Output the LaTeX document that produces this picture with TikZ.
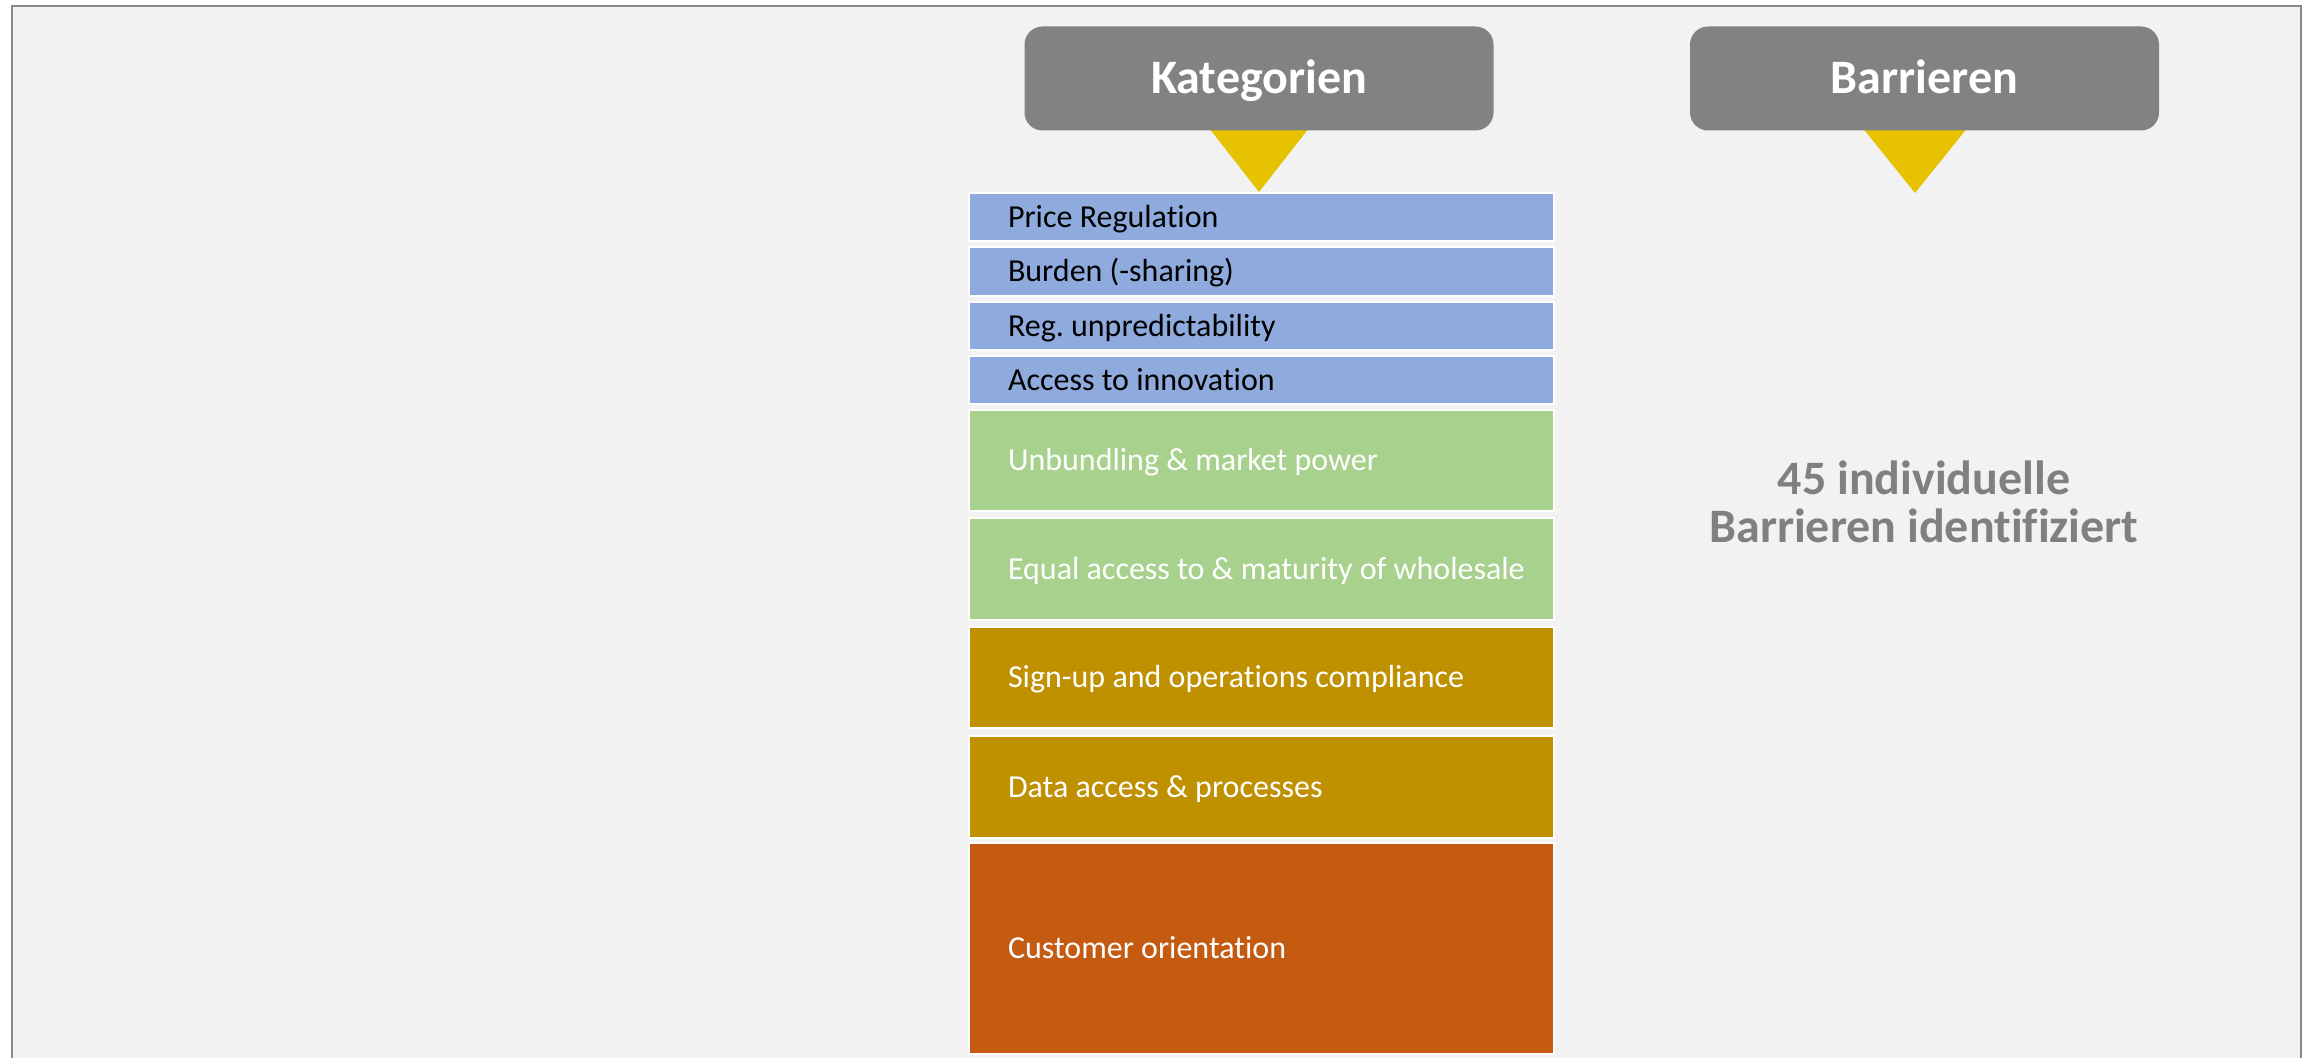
\documentclass[tikz,border=0pt]{standalone}
\usepackage{fontspec}
\setmainfont{Carlito}[Ligatures={CommonOff}]
\definecolor{bgcol}{HTML}{F2F2F2}
\definecolor{framecol}{HTML}{8A8A8A}
\definecolor{cblue}{HTML}{8FAADC}
\definecolor{cgreen}{HTML}{A9D18E}
\definecolor{cgold}{HTML}{BF9000}
\definecolor{corange}{HTML}{C55A11}
\definecolor{hgray}{HTML}{828282}
\definecolor{tyellow}{HTML}{E6C200}
\definecolor{tgray}{HTML}{808080}
\tikzset{
  catbox/.style={rectangle, draw=white, line width=1pt, text width=253.5pt,
    inner xsep=19.5pt, inner ysep=0pt, align=flush left, text height=10.3pt,
    text depth=0pt, font=\fontsize{16}{19}\selectfont\frenchspacing},
  catblue/.style={catbox, fill=cblue, text=black},
  catgreen/.style={catbox, fill=cgreen, text=white},
  catgold/.style={catbox, fill=cgold, text=white},
  catorange/.style={catbox, fill=corange, text=white},
  headbox/.style={rectangle, rounded corners=9pt, fill=hgray, text=white,
    font=\fontsize{24}{24}\selectfont\bfseries, minimum width=234.5pt,
    minimum height=52pt, inner sep=0pt, text height=15.5pt, text depth=0pt},
  pointer/.style={fill=tyellow},
  notetext/.style={font=\fontsize{24}{24}\selectfont\bfseries, text=tgray,
    inner sep=0pt, anchor=base},
  framelines/.style={draw=framecol, line width=1pt}
}
\begin{document}
\begin{tikzpicture}[x=0.5pt,y=-0.5pt]
\useasboundingbox (0,0) rectangle (2313,1058);
\fill[white] (0,0) rectangle (2313,1058);
\fill[bgcol] (12,6) rectangle (2301,1058);
\draw[framelines] (12,1058) -- (12,6) -- (2301,6) -- (2301,1058);

% pointers (drawn first, then headers on top)
\coordinate (katbase) at (1259,128);
\coordinate (barbase) at (1915,129);
\fill[pointer] ([xshift=-25pt]katbase) -- ([xshift=25pt]katbase) -- ([yshift=-32pt]katbase) -- cycle;
\fill[pointer] ([xshift=-25.75pt]barbase) -- ([xshift=25.75pt]barbase) -- ([yshift=-32pt]barbase) -- cycle;

% headers
\node[headbox] (kat) at (1259,78.5) {Kategorien};
\node[headbox] (bar) at (1924.5,78.5) {Barrieren};

% categories
\node[catblue, minimum height=24pt] (c1) at (1261.5,217) {Price Regulation};
\node[catblue, minimum height=24.5pt] (c2) at (1261.5,271.5) {Burden (-sharing)};
\node[catblue, minimum height=24pt] (c3) at (1261.5,326) {Reg. unpredictability};
\node[catblue, minimum height=24pt] (c4) at (1261.5,380) {Access to innovation};
\node[catgreen, minimum height=50.5pt] (c5) at (1261.5,460.5) {Unbundling \& market power};
\node[catgreen, minimum height=51pt] (c6) at (1261.5,569) {\mbox{Equal access to \& maturity of wholesale}};
\node[catgold, minimum height=50.5pt] (c7) at (1261.5,677.5) {Sign-up and operations compliance};
\node[catgold, minimum height=51pt] (c8) at (1261.5,787) {Data access \& processes};
\node[catorange, minimum height=105.5pt] (c9) at (1261.5,948.5) {Customer orientation};

% note
\node[notetext] (n1) at (1924,495) {45 individuelle};
\node[notetext] (n2) at (1924,543) {Barrieren identifiziert};
\end{tikzpicture}
\end{document}
